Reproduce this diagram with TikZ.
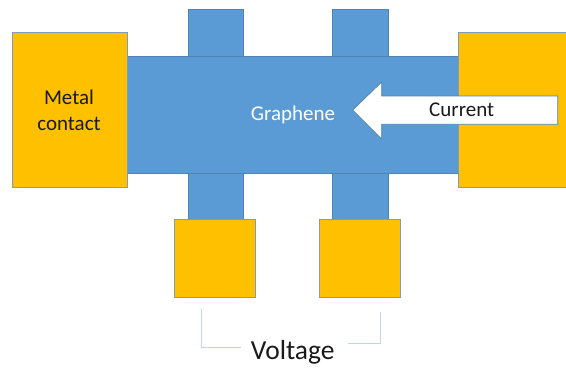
\documentclass[tikz,border=0pt]{standalone}
\usepackage{fontspec}
\setmainfont{Carlito}
\definecolor{gold}{HTML}{FFC000}
\definecolor{gblue}{HTML}{5B9BD5}
\definecolor{bedge}{HTML}{4F82B5}
\definecolor{gedge}{HTML}{7F9CBC}
\definecolor{bracketc}{HTML}{BDD7EE}
\definecolor{txt}{HTML}{1A1A1A}
\begin{document}
\begin{tikzpicture}[x=1pt,y=-1pt,
  box/.style={rectangle,inner sep=0pt,outer sep=0pt,anchor=north west,line width=0.7pt},
  metal/.style={box,fill=gold,draw=gedge},
  graph/.style={box,fill=gblue,draw=bedge},
  lbl/.style={inner sep=0pt,font=\fontsize{21}{26}\selectfont,text=txt,align=center},
  brk/.style={draw=bracketc,line width=1pt}]
\useasboundingbox (0,0) rectangle (566,368);
\clip (0,0) rectangle (566,368);
% tabs
\node[graph,minimum width=55.5pt,minimum height=47pt] (t1) at (188,9) {};
\node[graph,minimum width=55.5pt,minimum height=47pt] (t2) at (332.5,9) {};
\node[graph,minimum width=55.5pt,minimum height=46pt] (b1) at (188,173) {};
\node[graph,minimum width=55.5pt,minimum height=46pt] (b2) at (332.5,173) {};
% graphene bar
\node[graph,minimum width=333pt,minimum height=117pt] (bar) at (127,56) {};
% contacts
\node[metal,minimum width=115pt,minimum height=155pt] (lc) at (12,32) {};
\node[metal,minimum width=120pt,minimum height=155pt] (rc) at (458.5,32) {};
\node[metal,minimum width=81.5pt,minimum height=78.5pt] (c1) at (174,219) {};
\node[metal,minimum width=81.5pt,minimum height=78.5pt] (c2) at (319,219) {};
% labels
\node[lbl] (mc) at (69,110) {Metal\\contact};
\node[lbl,text=white] (gr) at (293,115) {Graphene};
% current arrow
\draw[fill=white,draw=bedge,line width=0.7pt]
  (557.7,96) -- (381.7,96) -- (381.7,82) -- (352.7,110) -- (381.7,139)
  -- (381.7,124.3) -- (557.7,124.3) -- cycle;
\node[lbl] (cur) at (461.7,109.5) {Current};
% voltage bracket
\node[lbl,font=\fontsize{27.5}{30}\selectfont] (volt) at (292.7,352) {Voltage};
\coordinate (l1) at (201,309);
\coordinate (l2) at (240.7,347);
\coordinate (r1) at (380.7,311.7);
\coordinate (r2) at (347.7,343);
\draw[brk] (l1) |- (l2);
\draw[brk] (r2) -| (r1);
\end{tikzpicture}
\end{document}
